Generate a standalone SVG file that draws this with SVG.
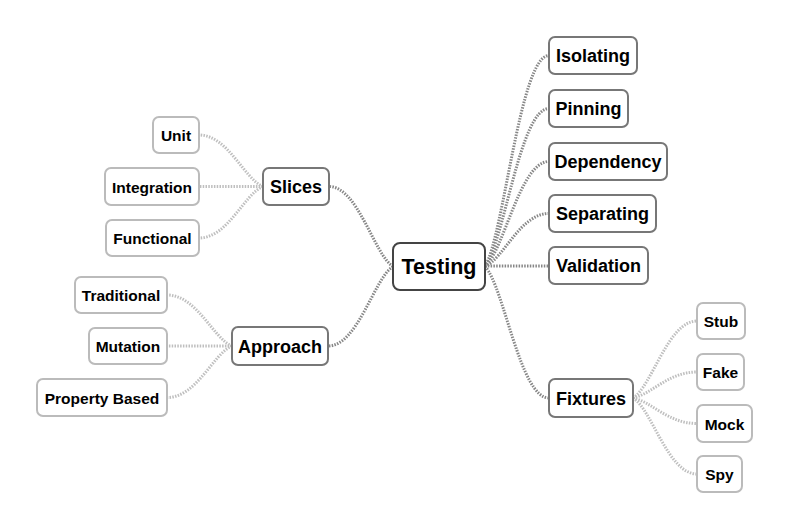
<svg xmlns="http://www.w3.org/2000/svg" width="788" height="530" viewBox="0 0 788 530">
<style>
  .bg { fill: #ffffff; }
  .box { fill: #ffffff; }
  .root { stroke: #444444; stroke-width: 2; }
  .l1 { stroke: #777777; stroke-width: 2; }
  .l2 { stroke: #bbbbbb; stroke-width: 2; }
  text { font-family: "Liberation Sans", Arial, sans-serif; font-weight: bold; fill: #000000; text-anchor: middle; dominant-baseline: central; }
  .t0 { font-size: 21.5px; }
  .t1 { font-size: 18px; }
  .t2 { font-size: 15.5px; }
  .c1 { fill: none; stroke: #878787; stroke-width: 3; stroke-dasharray: 1.5 1.3; }
  .c2 { fill: none; stroke: #bfbfbf; stroke-width: 3; stroke-dasharray: 1.5 1.3; }
</style>
<rect class="bg" x="0" y="0" width="788" height="530"/>
<g id="connectors">
  <path class="c1" d="M485,266.5 C504,234.9 520,55.5 549,55.5"/>
  <path class="c1" d="M485,266.5 C504,242.8 520,108.5 549,108.5"/>
  <path class="c1" d="M485,266.5 C504,250.8 520,161.5 549,161.5"/>
  <path class="c1" d="M485,266.5 C504,258.5 520,213.5 549,213.5"/>
  <path class="c1" d="M485,266 L549,266"/>
  <path class="c1" d="M485,266.5 C504,286.2 520,398 549,398"/>
  <path class="c1" d="M393,266.5 C374,254.5 358,186.5 329,186.5"/>
  <path class="c1" d="M393,266.5 C374,278.4 358,346 328,346"/>
  <path class="c2" d="M633,398 C652,386.5 668,321 697,321"/>
  <path class="c2" d="M633,398 C652,394.1 668,372 697,372"/>
  <path class="c2" d="M633,398 C652,401.8 668,423.5 697,423.5"/>
  <path class="c2" d="M633,398 C652,409.4 668,474 697,474"/>
  <path class="c2" d="M263,186.5 C244,178.8 228,135 199,135"/>
  <path class="c2" d="M263,186.5 L199,186.5"/>
  <path class="c2" d="M263,186.5 C244,194.2 228,238 199,238"/>
  <path class="c2" d="M232,346 C213,338.4 197,295 167,295"/>
  <path class="c2" d="M232,346 L167,346"/>
  <path class="c2" d="M232,346 C213,353.7 197,397.5 167,397.5"/>
</g>
<g id="testing"><rect class="box root" x="393" y="243" width="92" height="47" rx="7"/><text class="t0" x="439" y="267">Testing</text></g>
<g id="isolating"><rect class="box l1" x="549" y="37" width="88" height="37" rx="6"/><text class="t1" x="593" y="56">Isolating</text></g>
<g id="pinning"><rect class="box l1" x="549" y="90" width="79" height="37" rx="6"/><text class="t1" x="588.5" y="109">Pinning</text></g>
<g id="dependency"><rect class="box l1" x="549" y="143" width="118" height="37" rx="6"/><text class="t1" x="608" y="162">Dependency</text></g>
<g id="separating"><rect class="box l1" x="549" y="195" width="107" height="37" rx="6"/><text class="t1" x="602.5" y="214">Separating</text></g>
<g id="validation"><rect class="box l1" x="549" y="247" width="99" height="37" rx="6"/><text class="t1" x="598.5" y="266">Validation</text></g>
<g id="fixtures"><rect class="box l1" x="549" y="379" width="84" height="38" rx="6"/><text class="t1" x="591" y="398.5">Fixtures</text></g>
<g id="slices"><rect class="box l1" x="263" y="168" width="66" height="37" rx="6"/><text class="t1" x="296" y="187">Slices</text></g>
<g id="approach"><rect class="box l1" x="232" y="327" width="96" height="38" rx="6"/><text class="t1" x="280" y="346.5">Approach</text></g>
<g id="stub"><rect class="box l2" x="697" y="303" width="48" height="36" rx="6"/><text class="t2" x="721" y="321.5">Stub</text></g>
<g id="fake"><rect class="box l2" x="697" y="354" width="47" height="36" rx="6"/><text class="t2" x="720.5" y="372.5">Fake</text></g>
<g id="mock"><rect class="box l2" x="697" y="405" width="55" height="37" rx="6"/><text class="t2" x="724.5" y="424">Mock</text></g>
<g id="spy"><rect class="box l2" x="697" y="456" width="45" height="36" rx="6"/><text class="t2" x="719.5" y="474.5">Spy</text></g>
<g id="unit"><rect class="box l2" x="153" y="117" width="46" height="36" rx="6"/><text class="t2" x="176" y="135.5">Unit</text></g>
<g id="integration"><rect class="box l2" x="105" y="168" width="94" height="37" rx="6"/><text class="t2" x="152" y="187">Integration</text></g>
<g id="functional"><rect class="box l2" x="106" y="220" width="93" height="36" rx="6"/><text class="t2" x="152.5" y="238.5">Functional</text></g>
<g id="traditional"><rect class="box l2" x="75" y="277" width="92" height="36" rx="6"/><text class="t2" x="121" y="295.5">Traditional</text></g>
<g id="mutation"><rect class="box l2" x="89" y="328" width="78" height="36" rx="6"/><text class="t2" x="128" y="346.5">Mutation</text></g>
<g id="property-based"><rect class="box l2" x="37" y="379" width="130" height="37" rx="6"/><text class="t2" x="102" y="398">Property Based</text></g>
</svg>
